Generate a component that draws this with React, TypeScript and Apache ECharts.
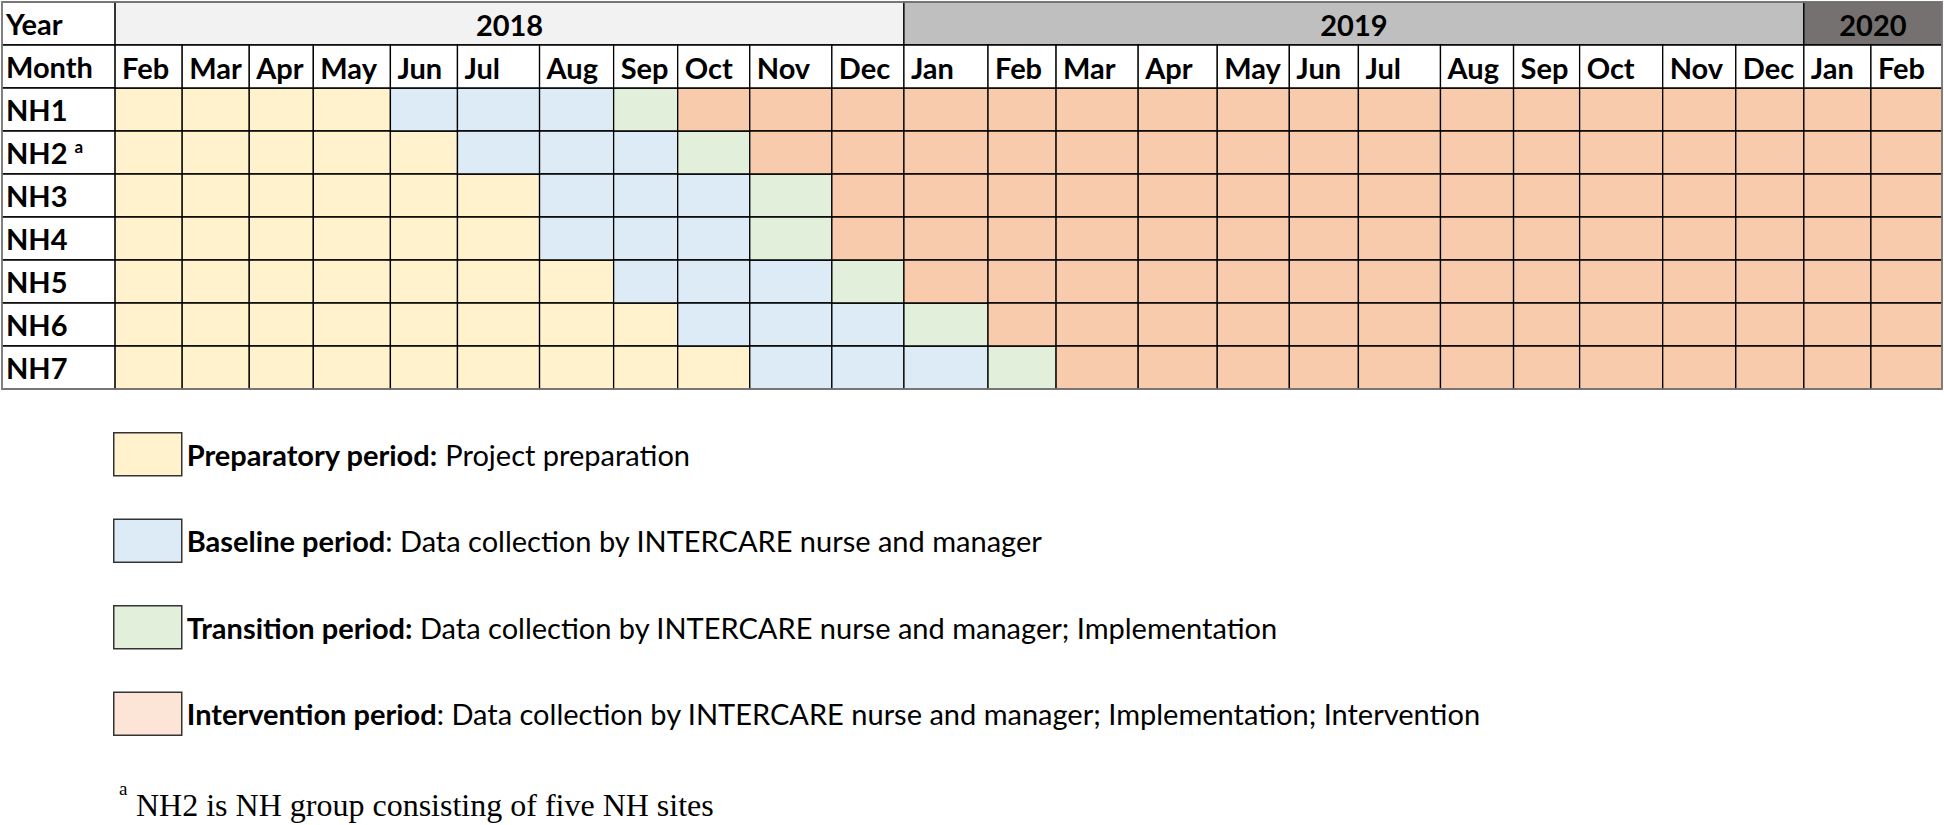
import React, { useEffect, useRef } from "react";
import * as echarts from "echarts";

// ---------- data ----------
const months = [
  "Feb", "Mar", "Apr", "May", "Jun", "Jul", "Aug", "Sep", "Oct", "Nov", "Dec",
  "Jan", "Feb", "Mar", "Apr", "May", "Jun", "Jul", "Aug", "Sep", "Oct", "Nov", "Dec",
  "Jan", "Feb",
];
const years = ["2018", "2019", "2020"];
const yearStartCol = [0, 11, 23];
const yearEndCol = [11, 23, 25];
const headerRows = ["Year", "Month"];
const sites = ["NH1", "NH2", "NH3", "NH4", "NH5", "NH6", "NH7"];
// month column index (0 = Feb 2018) where each period starts, per site
const baselineStart = [4, 5, 6, 6, 7, 8, 9];
const transitionStart = [7, 8, 9, 9, 10, 11, 12];
const interventionStart = [8, 9, 10, 10, 11, 12, 13];

const phaseNames = ["Preparatory period", "Baseline period", "Transition period", "Intervention period"];
const legendBold = ["Preparatory period:", "Baseline period", "Transition period:", "Intervention period"];
const legendRest = [
  " Project preparation",
  ": Data collection by INTERCARE nurse and manager",
  " Data collection by INTERCARE nurse and manager; Implementation",
  ": Data collection by INTERCARE nurse and manager; Implementation; Intervention",
];
const footnoteMark = "a";
const footnoteText = "NH2 is NH group consisting of five NH sites";

// ---------- layout & styles ----------
// spreadsheet column widths (px) of the label column and each month column
const LABEL_COL_WIDTH = 113;
const COL_WIDTHS = [67, 67, 64, 77, 67, 82, 74, 64, 72, 82, 72, 84, 68, 82, 79, 72, 69, 82, 73, 66, 83, 73, 68, 67, 71];
const COL_EDGES = COL_WIDTHS.reduce((acc: number[], w) => {
  acc.push(acc[acc.length - 1] + w);
  return acc;
}, [0]);
const edge = (i: number) => COL_EDGES[i];

const phaseColors = ["#FFF2CC", "#DDEBF7", "#E2EFDA", "#F8CBAD"];
const legendColors = ["#FFF2CC", "#DDEBF7", "#E2EFDA", "#FCE4D6"];
const yearColors = ["#F2F2F2", "#BFBFBF", "#767171"];
const FONT = "Lato";
const TABLE_FS = 29;
const LEGEND_FS = 29;
const LINE = "#000";
const LW = 1.3;

const rowNames = [...headerRows, ...sites];

function phaseOf(site: number, col: number) {
  if (col < baselineStart[site]) return 0;
  if (col < transitionStart[site]) return 1;
  if (col < interventionStart[site]) return 2;
  return 3;
}

function phaseCells(p: number) {
  const out: number[][] = [];
  sites.forEach((_, i) => {
    months.forEach((__, c) => {
      if (phaseOf(i, c) === p) out.push([c, headerRows.length + i]);
    });
  });
  return out;
}

const textStyle = (text: string, align: string) => ({
  text,
  fill: "#000",
  fontFamily: FONT,
  fontWeight: "bold",
  fontSize: TABLE_FS,
  align,
  verticalAlign: "middle",
  textAlign: align,
  textVerticalAlign: "middle",
});

export default function App() {
  const ref = useRef<HTMLDivElement>(null);

  useEffect(() => {
    document.body.style.margin = "0";
    if (!ref.current) return;
    const chart = echarts.init(ref.current, undefined, { renderer: "svg" });

    const cellRect = (api: any, c0: number, c1: number, row: number) => {
      const a = api.coord([edge(c0), row]);
      const b = api.coord([edge(c1), row]);
      const h = api.size([0, 1])[1];
      return { x: a[0], y: a[1] - h / 2, width: b[0] - a[0], height: h, cy: a[1] };
    };

    const cellSeries = phaseNames.map((name, p) => ({
      type: "custom",
      name,
      clip: false,
      z: 2,
      itemStyle: { color: legendColors[p] },
      encode: { y: 1 },
      data: phaseCells(p),
      renderItem: (params: any, api: any) => {
        const col = api.value(0);
        const r = cellRect(api, col, col + 1, api.value(1));
        return {
          type: "rect",
          shape: { x: r.x, y: r.y, width: r.width, height: r.height },
          style: { fill: phaseColors[p], stroke: LINE, lineWidth: LW },
        };
      },
    }));

    const yearSeries = {
      type: "custom",
      name: "years",
      clip: false,
      z: 3,
      encode: { y: 2 },
      data: years.map((_, i) => [yearStartCol[i], yearEndCol[i], 0, i]),
      renderItem: (params: any, api: any) => {
        const i = api.value(3);
        const r = cellRect(api, api.value(0), api.value(1), api.value(2));
        return {
          type: "group",
          children: [
            {
              type: "rect",
              shape: { x: r.x, y: r.y, width: r.width, height: r.height },
              style: { fill: yearColors[i], stroke: LINE, lineWidth: LW },
            },
            { type: "text", x: r.x + r.width / 2, y: r.cy + 1, style: textStyle(years[i], "center") },
          ],
        };
      },
    };

    const monthSeries = {
      type: "custom",
      name: "months",
      clip: false,
      z: 3,
      encode: { y: 1 },
      data: months.map((_, i) => [i, 1]),
      renderItem: (params: any, api: any) => {
        const col = api.value(0);
        const r = cellRect(api, col, col + 1, api.value(1));
        return {
          type: "group",
          children: [
            {
              type: "rect",
              shape: { x: r.x, y: r.y, width: r.width, height: r.height },
              style: { fill: "#fff", stroke: LINE, lineWidth: LW },
            },
            { type: "text", x: r.x + 7, y: r.cy + 1, style: textStyle(months[col], "left") },
          ],
        };
      },
    };

    const labelCellSeries = {
      type: "custom",
      name: "labelCells",
      clip: false,
      z: 1,
      encode: { y: 0 },
      data: rowNames.map((_, r) => [r]),
      renderItem: (params: any, api: any) => {
        const row = api.value(0);
        const a = api.coord([-LABEL_COL_WIDTH, row]);
        const b = api.coord([0, row]);
        const h = api.size([0, 1])[1];
        return {
          type: "rect",
          shape: { x: a[0], y: a[1] - h / 2, width: b[0] - a[0], height: h },
          style: { fill: "#fff", stroke: LINE, lineWidth: LW },
        };
      },
    };

    const outlineSeries = {
      type: "custom",
      name: "outline",
      clip: false,
      z: 4,
      encode: { y: 0 },
      data: [[0, rowNames.length - 1]],
      renderItem: (params: any, api: any) => {
        const a = api.coord([-LABEL_COL_WIDTH, api.value(0)]);
        const b = api.coord([edge(months.length), api.value(1)]);
        const h = api.size([0, 1])[1];
        return {
          type: "rect",
          shape: { x: a[0], y: a[1] - h / 2, width: b[0] - a[0], height: b[1] - a[1] + h },
          style: { fill: "none", stroke: "#8a8a8a", lineWidth: 1.6 },
        };
      },
    };

    const option: any = {
      animation: false,
      grid: { left: 2, right: 2, top: 2, height: 387 },
      xAxis: { type: "value", min: -LABEL_COL_WIDTH, max: edge(months.length), show: false },
      yAxis: {
        type: "category",
        data: rowNames,
        inverse: true,
        z: 10,
        axisLine: { show: false },
        axisTick: { show: false },
        splitLine: { show: false },
        axisLabel: {
          inside: true,
          margin: 4,
          color: "#000",
          fontFamily: FONT,
          fontWeight: "bold",
          fontSize: TABLE_FS,
          formatter: (v: string) => (v === "NH2" ? `{n|NH2 }{s|${footnoteMark}}` : `{n|${v}}`),
          rich: {
            n: { fontFamily: FONT, fontWeight: "bold", fontSize: TABLE_FS, color: "#000" },
            s: { fontFamily: FONT, fontWeight: "bold", fontSize: 17, color: "#000", verticalAlign: "top" },
          },
        },
      },
      legend: {
        orient: "vertical",
        left: 113,
        top: 432,
        padding: 0,
        itemWidth: 68,
        itemHeight: 43,
        itemGap: 42,
        icon: "rect",
        selectedMode: false,
        itemStyle: { borderColor: "#333", borderWidth: 1.5 },
        data: phaseNames.map((n, i) => ({
          name: n,
          itemStyle: { color: legendColors[i], borderColor: "#333", borderWidth: 1.5 },
        })),
        formatter: (name: string) => {
          const i = phaseNames.indexOf(name);
          return `{b|${legendBold[i]}}{r|${legendRest[i]}}`;
        },
        textStyle: {
          rich: {
            b: { fontFamily: FONT, fontWeight: "bold", fontSize: LEGEND_FS, color: "#000" },
            r: { fontFamily: FONT, fontWeight: "normal", fontSize: LEGEND_FS, color: "#000" },
          },
        },
      },
      graphic: [
        {
          type: "text",
          left: 119,
          top: 779,
          style: { text: footnoteMark, fontFamily: "Liberation Serif", fontSize: 19, fill: "#000" },
        },
        {
          type: "text",
          left: 136,
          top: 789,
          style: { text: footnoteText, fontFamily: "Liberation Serif", fontSize: 32, fill: "#000" },
        },
      ],
      series: [labelCellSeries, ...cellSeries, yearSeries, monthSeries, outlineSeries],
    };

    chart.setOption(option);
    return () => chart.dispose();
  }, []);

  return <div ref={ref} style={{ width: 1944, height: 825 }} />;
}
